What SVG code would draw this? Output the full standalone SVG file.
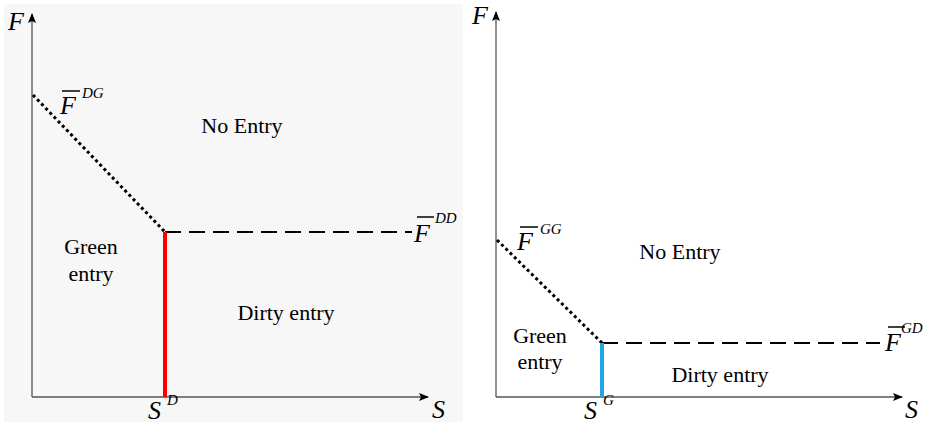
<svg xmlns="http://www.w3.org/2000/svg" width="930" height="426" viewBox="0 0 930 426">
<defs>
<marker id="arr" markerWidth="10" markerHeight="8" refX="9" refY="4" orient="auto" markerUnits="userSpaceOnUse">
<path d="M0,0 L10,4 L0,8 L2,4 Z" fill="#000"/>
</marker>
<style>
.ax{stroke:#555;stroke-width:1.3;fill:none}
.dot{stroke:#000;stroke-width:3;stroke-dasharray:3 3;fill:none}
.dash{stroke:#000;stroke-width:2;stroke-dasharray:16 8;fill:none}
.lbl{font-family:'Liberation Serif','Times New Roman','DejaVu Serif',serif;font-size:22px;fill:#000}
.it{font-family:'Liberation Serif','Times New Roman','DejaVu Serif',serif;font-style:italic;font-size:26px;fill:#000}
.sup{font-family:'Liberation Serif','Times New Roman','DejaVu Serif',serif;font-style:italic;font-size:15px;fill:#000}
.bar{stroke:#000;stroke-width:1.5}
</style>
</defs>
<rect x="0" y="0" width="930" height="426" fill="#fff"/>
<rect x="4" y="4" width="459" height="418" fill="#f7f7f7"/>
<g id="connectors">
<line class="ax" x1="32" y1="397" x2="32" y2="14" marker-end="url(#arr)"/>
<line class="ax" x1="32" y1="397" x2="428" y2="397" marker-end="url(#arr)"/>
<line class="ax" x1="496" y1="397" x2="496" y2="12" marker-end="url(#arr)"/>
<line class="ax" x1="496" y1="397" x2="902" y2="397" marker-end="url(#arr)"/>
<line class="dot" x1="33" y1="95" x2="165" y2="232"/>
<line class="dash" x1="165" y1="232" x2="412" y2="232"/>
<line x1="165" y1="232" x2="165" y2="397" stroke="#f00" stroke-width="4"/>
<line class="dot" x1="497" y1="240" x2="602" y2="343"/>
<line class="dash" x1="602" y1="343" x2="880" y2="343"/>
<line x1="602" y1="343" x2="602" y2="397" stroke="#1ea7e8" stroke-width="4"/>
</g>
<g id="left-labels">
<text class="it" x="8" y="30">F</text>
<text class="it" x="432" y="418">S</text>
<g id="FDG"><line class="bar" x1="62" y1="91" x2="80" y2="91"/><text class="it" x="60" y="114">F</text><text class="sup" x="82" y="98">DG</text></g>
<g id="FDD"><line class="bar" x1="417" y1="217" x2="434" y2="217"/><text class="it" x="414" y="242">F</text><text class="sup" x="435" y="223">DD</text></g>
<g id="SD"><text class="it" x="148" y="419">S</text><text class="sup" x="167" y="405">D</text></g>
<text class="lbl" x="242" y="133" text-anchor="middle">No Entry</text>
<text class="lbl" x="91" y="254" text-anchor="middle">Green</text>
<text class="lbl" x="91" y="281" text-anchor="middle">entry</text>
<text class="lbl" x="286" y="320" text-anchor="middle">Dirty entry</text>
</g>
<g id="right-labels">
<text class="it" x="472" y="24">F</text>
<text class="it" x="905" y="418">S</text>
<g id="FGG"><line class="bar" x1="520" y1="227" x2="538" y2="227"/><text class="it" x="517" y="250">F</text><text class="sup" x="540" y="234">GG</text></g>
<g id="FGD"><line class="bar" x1="888" y1="327" x2="905" y2="327"/><text class="it" x="885" y="351">F</text><text class="sup" x="901" y="333">GD</text></g>
<g id="SG"><text class="it" x="584" y="419">S</text><text class="sup" x="603" y="405">G</text></g>
<text class="lbl" x="680" y="259" text-anchor="middle">No Entry</text>
<text class="lbl" x="540" y="343" text-anchor="middle">Green</text>
<text class="lbl" x="540" y="369" text-anchor="middle">entry</text>
<text class="lbl" x="720" y="382" text-anchor="middle">Dirty entry</text>
</g>
</svg>
